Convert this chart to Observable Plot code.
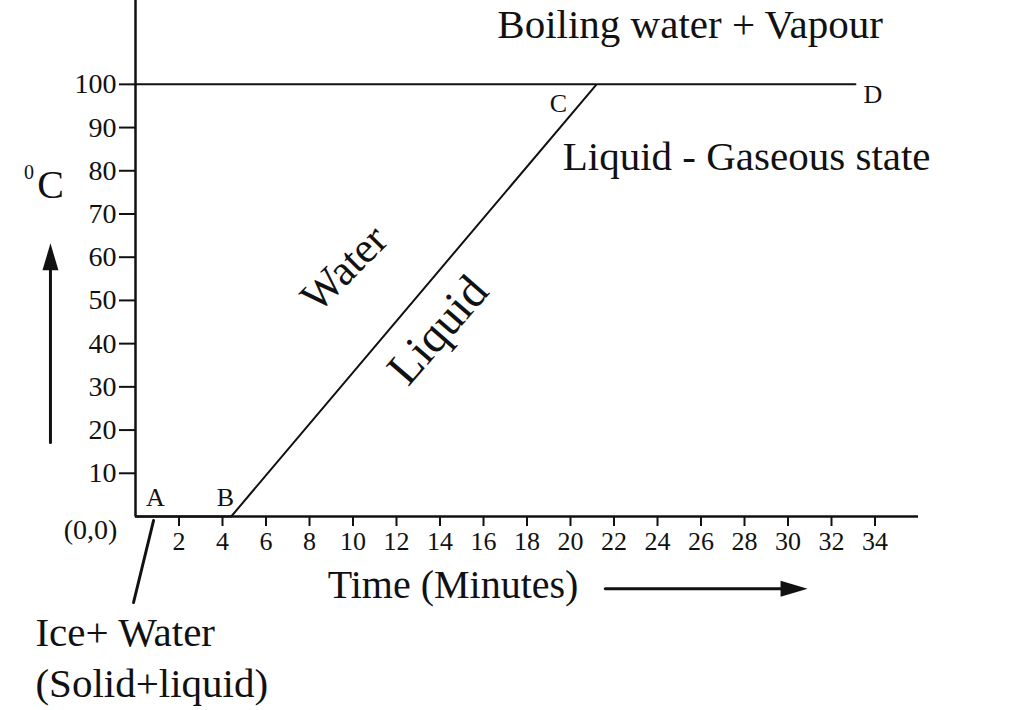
<!DOCTYPE html>
<html><head><meta charset="utf-8">
<script src="https://cdn.jsdelivr.net/npm/d3@7"></script>
<script src="https://cdn.jsdelivr.net/npm/@observablehq/plot@0.6"></script>
<style>html,body{margin:0;padding:0;background:#fff;}</style>
</head><body><div id="chart"></div>
<script>
// Heating curve of water (time in minutes, temperature in °C)
const curveTime = [0, 4.4, 21.2, 33.1];
const curveTemp = [0, 0, 100, 100];
const boilingTemp = 100;
const boilStartTime = 21.2;

const xTicks = [2, 4, 6, 8, 10, 12, 14, 16, 18, 20, 22, 24, 26, 28, 30, 32, 34];
const yTicks = [10, 20, 30, 40, 50, 60, 70, 80, 90, 100];

const pointNames = ["A", "B", "C", "D"];
const pointTime = [0.92, 4.14, 19.45, 33.9];
const pointTemp = [4.4, 4.4, 95.6, 97.7];

const regionText = ["Boiling water + Vapour", "Liquid - Gaseous state"];
const regionTime = [25.5, 28.1];
const regionTemp = [113.7, 83.1];

const slopeText = ["Water", "Liquid"];
const slopeTime = [9.6, 13.9];
const slopeTemp = [57.4, 43.1];
const slopeAngle = [-45, -49];
const slopeSize = [43, 47];

const noteText = ["Ice+ Water", "(Solid+liquid)"];
const noteTime = [-4.6, -4.6];
const noteTemp = [-26.9, -38.7];
const leaderTime = [0.83, -0.09];
const leaderTemp = [-0.93, -19.9];

const originLabel = "(0,0)";
const originTime = -2.07, originTemp = -3.2;
const xTitle = "Time (Minutes)";
const xTitleTime = 14.6, xTitleTemp = -16.0;
const yUnitTime = -4.1;

const upArrowTime = [-3.91, -3.91], upArrowTemp = [17.1, 58];
const upTip = {t: -3.91, v: 63.2};
const rightArrowTime = [21.6, 30.0], rightArrowTemp = [-16.7, -16.7];
const rightTip = {t: 30.9, v: -16.7};

const ink = "#111";
const serif = "Liberation Serif, Times New Roman, serif";

const arrowHead = {
  draw(ctx, size) {
    ctx.moveTo(0, 0);
    ctx.lineTo(-8, 27);
    ctx.lineTo(8, 27);
    ctx.closePath();
  }
};

const chart = Plot.plot({
  width: 1016,
  height: 710,
  marginLeft: 135,
  marginRight: 98,
  marginTop: 0,
  marginBottom: 194,
  x: {domain: [0, 36]},
  y: {domain: [0, 119.4]},
  style: {fontFamily: serif, background: "#fff", color: ink},
  marks: [
    Plot.axisY({ticks: yTicks, tickSize: 16, tickPadding: 3, fontSize: 28, strokeWidth: 2, label: null}),
    Plot.axisX({ticks: xTicks, tickSize: 10, tickPadding: 5, fontSize: 26, strokeWidth: 2, label: null}),
    Plot.ruleX([0], {stroke: ink, strokeWidth: 2.5}),
    Plot.ruleY([0], {stroke: ink, strokeWidth: 2.5}),
    Plot.ruleY([boilingTemp], {x1: 0, x2: boilStartTime, stroke: ink, strokeWidth: 2}),
    Plot.line(curveTime.map((t, i) => ({t, v: curveTemp[i]})), {x: "t", y: "v", stroke: ink, strokeWidth: 2}),
    Plot.text(pointNames, {x: (d, i) => pointTime[i], y: (d, i) => pointTemp[i], text: d => d, fontSize: 26, fill: ink}),
    Plot.text(regionText, {x: (d, i) => regionTime[i], y: (d, i) => regionTemp[i], text: d => d, fontSize: 41, fill: ink}),
    Plot.text(slopeText, {x: (d, i) => slopeTime[i], y: (d, i) => slopeTemp[i], text: d => d, rotate: (d, i) => slopeAngle[i], fontSize: (d, i) => slopeSize[i], fill: ink}),
    Plot.text(noteText, {x: (d, i) => noteTime[i], y: (d, i) => noteTemp[i], text: d => d, textAnchor: "start", fontSize: 41, fill: ink}),
    Plot.line(leaderTime.map((t, i) => ({t, v: leaderTemp[i]})), {x: "t", y: "v", stroke: ink, strokeWidth: 3}),
    Plot.text([originLabel], {x: originTime, y: originTemp, text: d => d, fontSize: 28, fill: ink}),
    Plot.text([xTitle], {x: xTitleTime, y: xTitleTemp, text: d => d, fontSize: 40, fill: ink}),
    Plot.text(["0"], {x: yUnitTime - 0.8, y: 79.6, text: d => d, fontSize: 20, fill: ink}),
    Plot.text(["C"], {x: yUnitTime + 0.2, y: 76.6, text: d => d, fontSize: 40, fill: ink}),
    Plot.line(upArrowTime.map((t, i) => ({t, v: upArrowTemp[i]})), {x: "t", y: "v", stroke: ink, strokeWidth: 3}),
    Plot.dot([upTip], {x: "t", y: "v", symbol: arrowHead, fill: ink, stroke: "none"}),
    Plot.line(rightArrowTime.map((t, i) => ({t, v: rightArrowTemp[i]})), {x: "t", y: "v", stroke: ink, strokeWidth: 3}),
    Plot.dot([rightTip], {x: "t", y: "v", symbol: arrowHead, rotate: 90, fill: ink, stroke: "none"})
  ]
});
document.getElementById("chart").appendChild(chart);
</script>
</body></html>
